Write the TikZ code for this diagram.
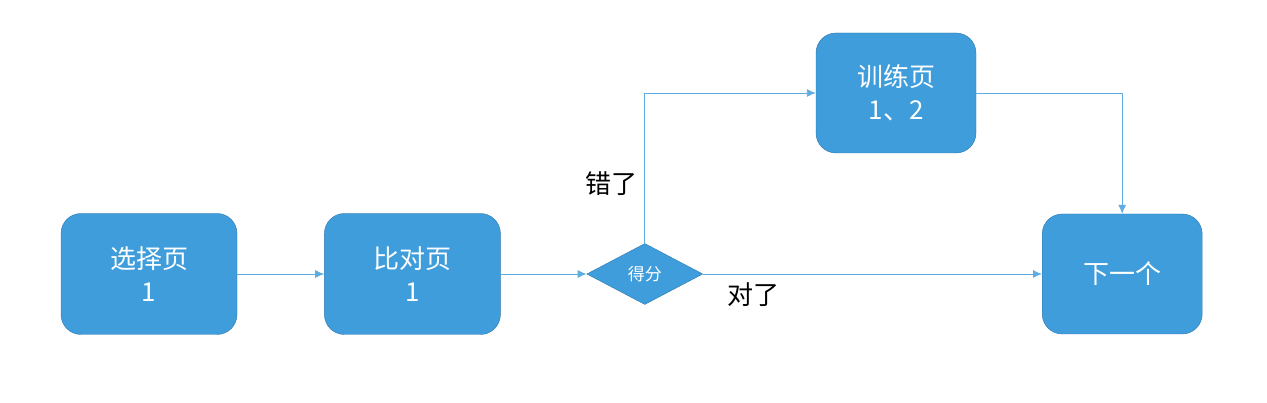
\documentclass[tikz,border=0pt]{standalone}
\usepackage{fontspec}
\newfontfamily\cjk{Noto Sans CJK SC}
\usepackage{tikz}
\usetikzlibrary{positioning, shapes.geometric, arrows.meta}

\definecolor{boxfill}{HTML}{3E9DDA}
\definecolor{boxline}{HTML}{2F78B0}
\definecolor{flusso}{HTML}{5DADE2}

\begin{document}
\begin{tikzpicture}[
	pagina/.style={rectangle, rounded corners=20pt, draw=boxline, fill=boxfill, text=white, align=center, font=\cjk\fontsize{26}{33}\selectfont},
	scelta/.style={diamond, draw=boxline, fill=boxfill, text=white, inner sep=0pt, aspect=1.9, minimum width=116pt, minimum height=61pt, font=\cjk\fontsize{17}{20}\selectfont},
	freccia/.style={draw=flusso, line width=0.9pt, -{Latex[length=9pt,width=8pt]}},
	etichetta/.style={font=\cjk\fontsize{26}{30}\selectfont}
	]
	\useasboundingbox (0,0) rectangle (1267pt,403pt);
	
	% Pagine
	\node[pagina, minimum width=176pt, minimum height=121pt] (scelta) at (149pt,129pt) {选择页\\1};
	\node[pagina, right=87pt of scelta, minimum width=176pt, minimum height=121pt] (confronto) {比对页\\1};
	
	% Decisione
	\node[scelta, right=86pt of confronto] (punteggio) {得分};
	
	% Allenamento e prossimo
	\node[pagina, minimum width=160pt, minimum height=120pt] (allenamento) at (896pt,310pt) {训练页\\1、2};
	\node[pagina, right=339pt of punteggio, minimum width=160pt, minimum height=120pt] (prossimo) {下一个};
	
	% Connessioni
	\draw[freccia] (scelta) -- (confronto);
	\draw[freccia] (confronto) -- (punteggio);
	\draw[freccia] (punteggio.north) |- node[etichetta, pos=0.2, left=4pt] {错了} (allenamento.west);
	\draw[freccia] (allenamento.east) -| (prossimo.north);
	\draw[freccia] (punteggio.east) -- node[etichetta, pos=0.15, below=5pt] {对了} (prossimo.west);
\end{tikzpicture}
\end{document}
